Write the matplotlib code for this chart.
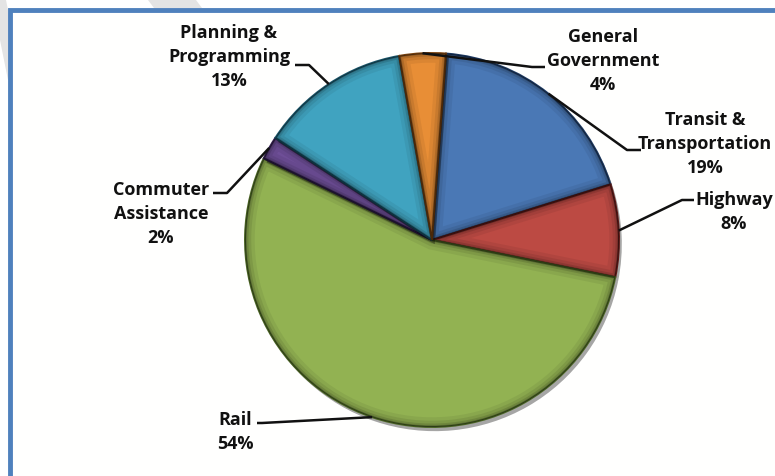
import matplotlib
matplotlib.use("Agg")
import matplotlib.pyplot as plt
import matplotlib.patheffects as pe
from matplotlib.patches import Polygon, Rectangle, Wedge
import numpy as np

# Budget shares by program area (percent), clockwise from the top
categories = ["Transit &\nTransportation", "Highway", "Rail",
              "Commuter\nAssistance", "Planning &\nProgramming", "General\nGovernment"]
shares = [19, 8, 54, 2, 13, 4]
colors = ["#4A78B5", "#BC4A43", "#92B252", "#6E4E97", "#40A3C0", "#E88E36"]
edge_colors = ["#1E3A62", "#5E1C1A", "#4A6424", "#33204F", "#1A5569", "#7A4412"]
explode = [0.0, 0.035, 0.0, 0.02, 0.015, 0.025]

W, H = 775, 476
fig = plt.figure(figsize=(W / 100, H / 100), dpi=100)
ax = fig.add_axes([0, 0, 1, 1])


def px(x, y):
    """Pixel position (origin top-left) to data coordinates."""
    return x, H - y


# page background strokes and frame
for poly in ([(0, 0), (6, 0), (22, 80), (8, 80), (0, 40)],
             [(148, 0), (196, 0), (202, 8), (154, 8)]):
    ax.add_patch(Polygon([px(*p) for p in poly], closed=True,
                         facecolor="#e4e4e4", edgecolor="none", zorder=0))
ax.add_patch(Rectangle(px(10, 480), 800, 470, facecolor="#fffffe",
                       edgecolor="#4F81BD", linewidth=3.5, zorder=0.5))

cx, cy = px(432, 240)
radius = 187
wedges, _ = ax.pie(
    shares, colors=colors, explode=explode, startangle=85.7,
    counterclock=False, radius=radius, center=(cx, cy),
    wedgeprops=dict(linewidth=1.4, zorder=2,
                    path_effects=[pe.SimplePatchShadow(offset=(2, -3), alpha=0.35,
                                                       shadow_rgbFace="#000000"),
                                  pe.Normal()]),
)
for w, ec in zip(wedges, edge_colors):
    w.set_edgecolor(ec)
    # soft bevel: darkening toward each slice's rim, kept inside the slice
    for lw, a in ((14, 0.06), (9, 0.08), (5, 0.12), (2.5, 0.18)):
        rim = Wedge(w.center, w.r, w.theta1, w.theta2, facecolor="none",
                    edgecolor="black", alpha=a, linewidth=lw, zorder=2.1)
        ax.add_patch(rim)
        rim.set_clip_path(w)

# label layout: text centre, leader-line elbow, leader-line end (pixels)
label_pos = [(705, 144), (734, 212), (235, 432), (161, 214), (229, 57), (603, 61)]
elbows = [(627, 150), (682, 200), (262, 423), (227, 193), (309, 65), (532, 67)]
line_ends = [(641, 150), (694, 200), (257, 423), (213, 193), (295, 65), (545, 67)]

for w, cat, share, lp, el, le in zip(wedges, categories, shares,
                                      label_pos, elbows, line_ends):
    mid = np.deg2rad((w.theta1 + w.theta2) / 2)
    wx = w.center[0] + w.r * np.cos(mid)
    wy = w.center[1] + w.r * np.sin(mid)
    ex, ey = px(*el)
    lx, ly = px(*le)
    ax.plot([wx, ex, lx], [wy, ey, ly], color="#111111", linewidth=1.8,
            solid_capstyle="butt", zorder=3)
    ax.text(*px(*lp), f"{cat}\n{share}%", ha="center", va="center",
            multialignment="center", fontsize=13, fontweight="bold",
            family="Open Sans", color="#111111", linespacing=1.45, zorder=4)

ax.set_xlim(0, W)
ax.set_ylim(0, H)
ax.set_aspect("auto")
ax.axis("off")
fig.savefig("out.png", dpi=100, facecolor="white")
